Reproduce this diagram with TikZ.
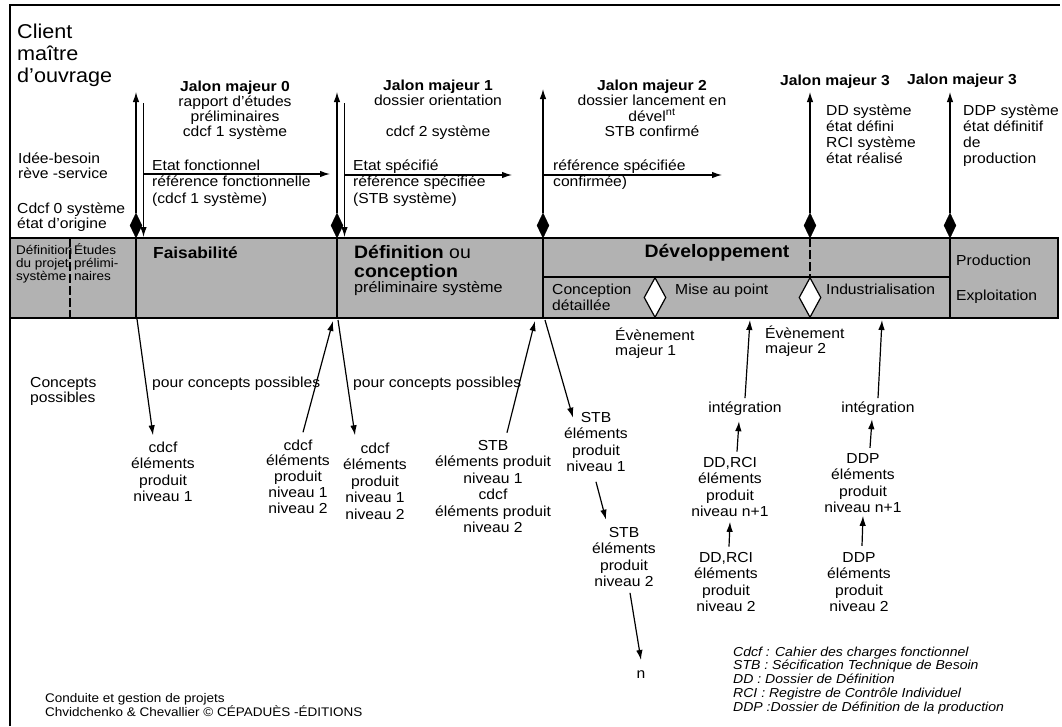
\documentclass[tikz,border=0pt]{standalone}
\usepackage{fontspec}
\setmainfont{Liberation Sans}[FakeStretch=1.08]
\usepackage{tikz}
\usetikzlibrary{arrows.meta,calc,positioning,shapes}
% base of a multi-line node = baseline of its last line
\tikzstyle{txt}=[inner sep=0pt, font=\fontsize{14.5}{15.5}\selectfont, align=left, anchor=base west]
\tikzstyle{ctxt}=[txt, align=center, anchor=base]
\tikzstyle{elem}=[ctxt, font=\fontsize{14.5}{16.5}\selectfont]
\tikzstyle{petit}=[txt, font=\fontsize{12.5}{13}\selectfont]
\tikzstyle{titre}=[txt, font=\fontsize{18}{19}\selectfont]
\tikzset{%
    fleche/.style={-{Latex[length=10pt,width=6.5pt]},line width=1.2pt},
    jalon/.style={diamond,draw,fill=black,inner sep=0pt,minimum width=12pt,minimum height=25pt},
    evenement/.style={diamond,draw,fill=white,line width=1.2pt,inner sep=0pt,minimum width=22pt,minimum height=40pt},
    bande/.style={draw,line width=1.6pt,fill=black!30},
    sep/.style={line width=1.4pt},
    cadre/.style={line width=2.5pt},
  }
\begin{document}
\begin{tikzpicture}[x=1pt,y=-1pt]
    \useasboundingbox (0,0) rectangle (1062,726);
    \draw [cadre] (10,726) -- (10,5) -- (1060,5);
    %
    \node (client) [txt, font=\fontsize{20}{22}\selectfont] at (17,82) {Client\\maître\\d'ouvrage};
    \node (idee) [txt] at (18,178.5) {Idée-besoin\\rève -service};
    \node (cdcf0) [txt] at (17,228.5) {Cdcf 0 système\\état d'origine};
    \node (j0) [ctxt, font=\fontsize{14.5}{15}\selectfont] at (235,136) {\textbf{Jalon majeur 0}\\rapport d'études\\préliminaires\\cdcf 1 système};
    \node (j1) [ctxt] at (438,136.5) {\textbf{Jalon majeur 1}\\dossier orientation\\[15.5pt]cdcf 2 système};
    \node (j2) [ctxt] at (652,136.5) {\textbf{Jalon majeur 2}\\dossier lancement en\\dével\textsuperscript{nt}\\STB confirmé};
    \node (j3) [ctxt] at (835,85) {\textbf{Jalon majeur 3}};
    \node (j4) [ctxt] at (962,84) {\textbf{Jalon majeur 3}};
    \node (dd) [txt, font=\fontsize{14.5}{16}\selectfont] at (826,163) {DD système\\état défini\\RCI système\\état réalisé};
    \node (ddp) [txt, font=\fontsize{14.5}{16}\selectfont] at (963,163) {DDP système\\état définitif\\de\\production};
    \node (ef) [txt, font=\fontsize{14.5}{16.5}\selectfont] at (152,203) {Etat fonctionnel\\référence fonctionnelle\\(cdcf 1 système)};
    \node (es) [txt, font=\fontsize{14.5}{16.5}\selectfont] at (353,203) {Etat spécifié\\référence spécifiée\\(STB système)};
    \node (ec) [txt, font=\fontsize{14.5}{16.5}\selectfont] at (553,186.5) {référence spécifiée\\confirmée)};
    %
    \draw [bande] (10,238) rectangle (1058,318);
    \draw [sep] (136,238) -- (136,318);
    \draw [sep] (337,238) -- (337,318);
    \draw [sep] (543,238) -- (543,318);
    \draw [sep] (950,238) -- (950,318);
    \draw [sep] (543,277) -- (950,277);
    \draw [sep, dash pattern=on 9pt off 3pt] (70,238) -- (70,318);
    \draw [sep, dash pattern=on 9pt off 3pt] (810,238) -- (810,277);
    \node (evt1) [evenement] at (655,297.5) {};
    \node (evt2) [evenement] at (810,297.5) {};
    %
    \node (dp) [petit] at (16,280) {Définition\\du projet\\système};
    \node (ep) [petit] at (74,280) {Études\\prélimi-\\naires};
    \node (fa) [titre, font=\fontsize{16}{17}\selectfont\bfseries] at (153,258) {Faisabilité};
    \node (dc) [titre] at (354,292) {\textbf{Définition} ou\\\textbf{conception}\\[-4pt]{\fontsize{15}{15}\selectfont préliminaire système}};
    \node (dev) [titre, anchor=base, font=\fontsize{18}{19}\selectfont\bfseries] at (717,257) {Développement};
    \node (prod) [txt] at (956,265) {Production};
    \node (expl) [txt] at (956,300) {Exploitation};
    \node (cd) [txt, font=\fontsize{14.5}{16}\selectfont] at (552,310) {Conception\\détaillée};
    \node (map) [txt] at (675,294) {Mise au point};
    \node (ind) [txt] at (826,294) {Industrialisation};
    %
    \node (d0) [jalon] at (136,225.5) {};
    \node (d1) [jalon] at (337,225.5) {};
    \node (d2) [jalon] at (543,225.5) {};
    \node (d3) [jalon] at (810,225.5) {};
    \node (d4) [jalon] at (950,225.5) {};
    \coordinate (u0) at (136,92);
    \coordinate (u1) at (337,92);
    \coordinate (u2) at (543,89);
    \coordinate (u3) at (810,92);
    \coordinate (u4) at (950,92);
    \draw [fleche] (d0.north) -- (u0);
    \draw [fleche] (d1.north) -- (u1);
    \draw [fleche] (d2.north) -- (u2);
    \draw [fleche] (d3.north) -- (u3);
    \draw [fleche] (d4.north) -- (u4);
    %
    \coordinate (h0) at (143.5,103);
    \coordinate (k0) at (143.5,237);
    \coordinate (h1) at (344.5,103);
    \coordinate (k1) at (344.5,237);
    \draw [fleche] (h0) -- (k0);
    \draw [fleche] (h1) -- (k1);
    \coordinate (ea) at (143.5,174);
    \coordinate (eb) at (330,174);
    \coordinate (sa) at (344.5,175);
    \coordinate (sb) at (512,175);
    \coordinate (ca) at (543,175);
    \coordinate (cb) at (722,175);
    \draw [fleche] (ea) -- (eb);
    \draw [fleche] (sa) -- (sb);
    \draw [fleche] (ca) -- (cb);
    %
    \node (cp) [txt] at (30,402.5) {Concepts\\possibles};
    \node (pc1) [txt] at (152,387) {pour concepts possibles};
    \node (pc2) [txt] at (353,387) {pour concepts possibles};
    \node (ev1) [txt] at (615,355.5) {Évènement\\majeur 1};
    \node (ev2) [txt] at (765,353.5) {Évènement\\majeur 2};
    %
    \node (n1) [elem] at (163,501.5) {cdcf\\éléments\\produit\\niveau 1};
    \node (n2) [elem, font=\fontsize{14.5}{15.8}\selectfont] at (298,513.2) {cdcf\\éléments\\produit\\niveau 1\\niveau 2};
    \node (n3) [elem] at (375,519) {cdcf\\éléments\\produit\\niveau 1\\niveau 2};
    \node (n4) [elem] at (493,532.5) {STB\\éléments produit\\niveau 1\\cdcf\\éléments produit\\niveau 2};
    \node (n5) [elem] at (596,471.5) {STB\\éléments\\produit\\niveau 1};
    \node (n6) [elem] at (624,586.5) {STB\\éléments\\produit\\niveau 2};
    \node (nn) [elem] at (641,678) {n};
    \node (i1) [elem] at (745,412) {intégration};
    \node (i2) [elem] at (878,412) {intégration};
    \node (n8) [elem] at (730,516.5) {DD,RCI\\éléments\\produit\\niveau n+1};
    \node (n9) [elem] at (726,611.5) {DD,RCI\\éléments\\produit\\niveau 2};
    \node (n10) [elem] at (863,512.5) {DDP\\éléments\\produit\\niveau n+1};
    \node (n11) [elem] at (859,611.5) {DDP\\éléments\\produit\\niveau 2};
    %
    \coordinate (b0) at (137,319);
    \coordinate (b1l) at (333,321);
    \coordinate (b1r) at (338,320);
    \coordinate (b2l) at (535,321);
    \coordinate (b2r) at (545,320);
    \coordinate (t1) at (750,320);
    \coordinate (t2) at (882,320);
    \draw [fleche] (b0) -- ([xshift=-10pt,yshift=6pt]n1.north);
    \draw [fleche] ([xshift=5pt,yshift=7pt]n2.north) -- (b1l);
    \draw [fleche] (b1r) -- ([xshift=-20pt,yshift=7pt]n3.north);
    \draw [fleche] ([xshift=14pt,yshift=7pt]n4.north) -- (b2l);
    \draw [fleche] (b2r) -- ([xshift=-23pt,yshift=-6pt]n5.north);
    \draw [fleche] ([yshift=-10pt]n5.south) -- ([xshift=-18pt,yshift=7pt]n6.north);
    \draw [fleche] ([xshift=6pt,yshift=-6pt]n6.south) -- ([yshift=10pt]nn.north);
    \draw [fleche] ([yshift=3pt]i1.north) -- (t1);
    \draw [fleche] ([xshift=7pt,yshift=5pt]n8.north) -- ([xshift=-6pt,yshift=-6pt]i1.south);
    \draw [fleche] ([xshift=3pt,yshift=5pt]n9.north) -- ([yshift=-5pt]n8.south);
    \draw [fleche] ([yshift=3pt]i2.north) -- (t2);
    \draw [fleche] ([xshift=7pt,yshift=5pt]n10.north) -- ([xshift=-6pt,yshift=-4pt]i2.south);
    \draw [fleche] ([xshift=3pt,yshift=6pt]n11.north) -- ([yshift=-3pt]n10.south);
    %
    \node (leg) [txt, font=\fontsize{13}{13.8}\selectfont\itshape] at (733,711.2) {Cdcf : Cahier des charges fonctionnel\\STB : Sécification Technique de Besoin\\DD : Dossier de Définition\\RCI : Registre de Contrôle Individuel\\DDP :Dossier de Définition de la production};
    \node (pied) [txt, font=\fontsize{12.5}{14}\selectfont] at (45,716) {Conduite et gestion de projets\\Chvidchenko \& Chevallier © CÉPADUÈS -ÉDITIONS};
  \end{tikzpicture}
\end{document}
